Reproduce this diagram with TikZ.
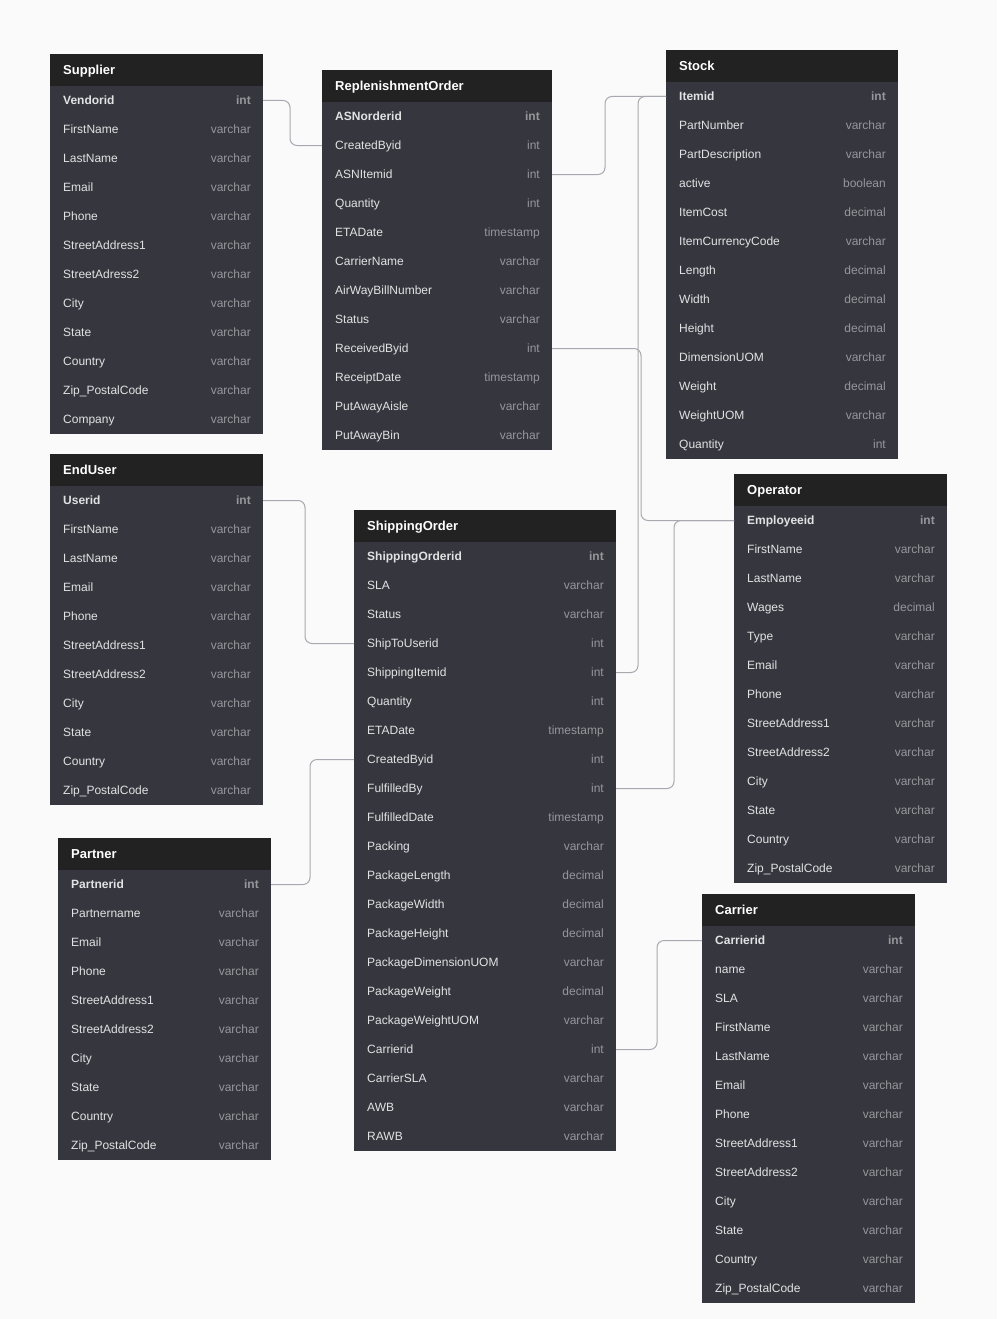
\documentclass[tikz,border=0pt]{standalone}
\usepackage{fontspec}
\setmainfont{Liberation Sans}
\definecolor{bgc}{RGB}{250,250,250}
\definecolor{hdrc}{RGB}{34,34,34}
\definecolor{bodyc}{RGB}{54,54,62}
\definecolor{namec}{RGB}{226,226,228}
\definecolor{typec}{RGB}{150,150,155}
\definecolor{linec}{RGB}{168,168,176}
\tikzset{
  hdrbox/.style={fill=hdrc, draw=none, inner sep=0pt, outer sep=0pt, minimum height=32pt, anchor=north west},
  bodybox/.style={fill=bodyc, draw=none, inner sep=0pt, outer sep=0pt, anchor=north west},
  rowbox/.style={draw=none, inner sep=0pt, outer sep=0pt, minimum height=29pt, anchor=north west},
  title/.style={text=white, font=\fontsize{13}{15}\selectfont\bfseries, inner sep=0pt, anchor=base west},
  fname/.style={text=namec, font=\fontsize{12}{14}\selectfont, inner sep=0pt, anchor=base west},
  ftype/.style={text=typec, font=\fontsize{12}{14}\selectfont, inner sep=0pt, anchor=base east},
  conn/.style={draw=linec, line width=1pt, rounded corners=7pt}
}
% #1 id, #2 left x, #3 top y, #4 width, #5 number of rows, #6 title, #7 rows
\newcommand\erdtable[7]{%
  \node[hdrbox, minimum width=#4] (#1) at (#2,#3) {};
  \node[title] (#1-title) at ([xshift=13pt,yshift=-4.6pt]#1.west) {#6};
  \node[bodybox, minimum width=#4, minimum height=#5*29] (#1-body) at (#2,#3+32) {};
  \foreach [count=\i] \f/\t in {#7} {
    \pgfmathsetmacro\yy{#3+32+(\i-1)*29}
    \node[rowbox, minimum width=#4] (#1-\i) at (#2,\yy) {};
    \node[fname] (#1-\i-n) at ([xshift=13pt,yshift=-4.3pt]#1-\i.west) {\ifnum\i=1 \bfseries\fi\f};
    \node[ftype] (#1-\i-t) at ([xshift=-12pt,yshift=-4.3pt]#1-\i.east) {\ifnum\i=1 \bfseries\fi\t};
  }
}
\begin{document}
\begin{tikzpicture}[x=1pt,y=-1pt]
\fill[bgc] (0,0) rectangle (997,1319);
\useasboundingbox (0,0) rectangle (997,1319);

\erdtable{supplier}{50}{54}{213}{12}{Supplier}{Vendorid/int,FirstName/varchar,LastName/varchar,Email/varchar,Phone/varchar,StreetAddress1/varchar,StreetAdress2/varchar,City/varchar,State/varchar,Country/varchar,Zip\_PostalCode/varchar,Company/varchar}

\erdtable{repl}{322}{70}{230}{12}{ReplenishmentOrder}{ASNorderid/int,CreatedByid/int,ASNItemid/int,Quantity/int,ETADate/timestamp,CarrierName/varchar,AirWayBillNumber/varchar,Status/varchar,ReceivedByid/int,ReceiptDate/timestamp,PutAwayAisle/varchar,PutAwayBin/varchar}

\erdtable{stock}{666}{50}{232}{13}{Stock}{Itemid/int,PartNumber/varchar,PartDescription/varchar,active/boolean,ItemCost/decimal,ItemCurrencyCode/varchar,Length/decimal,Width/decimal,Height/decimal,DimensionUOM/varchar,Weight/decimal,WeightUOM/varchar,Quantity/int}

\erdtable{enduser}{50}{454}{213}{11}{EndUser}{Userid/int,FirstName/varchar,LastName/varchar,Email/varchar,Phone/varchar,StreetAddress1/varchar,StreetAddress2/varchar,City/varchar,State/varchar,Country/varchar,Zip\_PostalCode/varchar}

\erdtable{ship}{354}{510}{262}{21}{ShippingOrder}{ShippingOrderid/int,SLA/varchar,Status/varchar,ShipToUserid/int,ShippingItemid/int,Quantity/int,ETADate/timestamp,CreatedByid/int,FulfilledBy/int,FulfilledDate/timestamp,Packing/varchar,PackageLength/decimal,PackageWidth/decimal,PackageHeight/decimal,PackageDimensionUOM/varchar,PackageWeight/decimal,PackageWeightUOM/varchar,Carrierid/int,CarrierSLA/varchar,AWB/varchar,RAWB/varchar}

\erdtable{oper}{734}{474}{213}{13}{Operator}{Employeeid/int,FirstName/varchar,LastName/varchar,Wages/decimal,Type/varchar,Email/varchar,Phone/varchar,StreetAddress1/varchar,StreetAddress2/varchar,City/varchar,State/varchar,Country/varchar,Zip\_PostalCode/varchar}

\erdtable{partner}{58}{838}{213}{10}{Partner}{Partnerid/int,Partnername/varchar,Email/varchar,Phone/varchar,StreetAddress1/varchar,StreetAddress2/varchar,City/varchar,State/varchar,Country/varchar,Zip\_PostalCode/varchar}

\erdtable{carrier}{702}{894}{213}{13}{Carrier}{Carrierid/int,name/varchar,SLA/varchar,FirstName/varchar,LastName/varchar,Email/varchar,Phone/varchar,StreetAddress1/varchar,StreetAddress2/varchar,City/varchar,State/varchar,Country/varchar,Zip\_PostalCode/varchar}

% connectors
\draw[conn] (supplier-1.east) -- ++(27,0) |- (repl-2.west);
\draw[conn] (repl-3.east) -- ++(53,0) |- (stock-1.west);
\draw[conn] (ship-5.east) -- ++(22,0) |- (stock-1.west);
\draw[conn] (repl-9.east) -- ++(89,0) |- (oper-1.west);
\draw[conn] (ship-9.east) -- ++(58,0) |- (oper-1.west);
\draw[conn] (enduser-1.east) -- ++(42,0) |- (ship-4.west);
\draw[conn] (partner-1.east) -- ++(39,0) |- (ship-8.west);
\draw[conn] (ship-18.east) -- ++(41,0) |- (carrier-1.west);
\end{tikzpicture}
\end{document}
